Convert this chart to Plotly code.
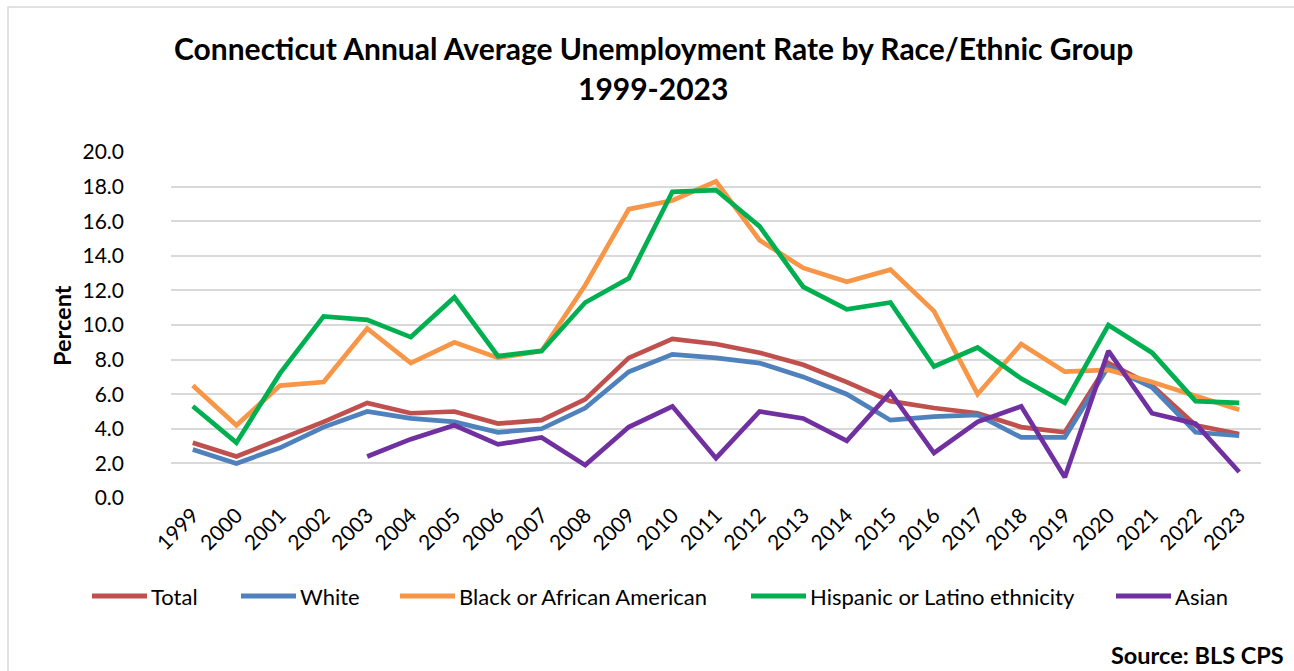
import plotly.graph_objects as go

years = [str(y) for y in range(1999, 2024)]
total = [3.2, 2.4, 3.4, 4.4, 5.5, 4.9, 5.0, 4.3, 4.5, 5.7, 8.1, 9.2, 8.9, 8.4, 7.7, 6.7, 5.6, 5.2, 4.9, 4.1, 3.8, 7.8, 6.5, 4.2, 3.7]
white = [2.8, 2.0, 2.9, 4.1, 5.0, 4.6, 4.4, 3.8, 4.0, 5.2, 7.3, 8.3, 8.1, 7.8, 7.0, 6.0, 4.5, 4.7, 4.8, 3.5, 3.5, 7.6, 6.4, 3.8, 3.6]
black = [6.5, 4.2, 6.5, 6.7, 9.8, 7.8, 9.0, 8.1, 8.5, 12.3, 16.7, 17.2, 18.3, 14.9, 13.3, 12.5, 13.2, 10.8, 6.0, 8.9, 7.3, 7.4, 6.7, 5.9, 5.1]
hispanic = [5.3, 3.2, 7.2, 10.5, 10.3, 9.3, 11.6, 8.2, 8.5, 11.3, 12.7, 17.7, 17.8, 15.7, 12.2, 10.9, 11.3, 7.6, 8.7, 6.9, 5.5, 10.0, 8.4, 5.6, 5.5]
asian = [None, None, None, None, 2.4, 3.4, 4.2, 3.1, 3.5, 1.9, 4.1, 5.3, 2.3, 5.0, 4.6, 3.3, 6.1, 2.6, 4.4, 5.3, 1.2, 8.5, 4.9, 4.3, 1.5]

series_names = ["Total", "White", "Black or African American",
                "Hispanic or Latino ethnicity", "Asian"]
series_values = [total, white, black, hispanic, asian]
series_colors = ["#C0504D", "#4F81BD", "#F79646", "#00B050", "#7030A0"]

FONT = "Lato"
W, H = 1294, 671
L, R, T, B = 171, 1261, 152, 498

# legend layout (pixel positions of each entry's line start)
legend_line_x = [92, 241, 400, 751, 1116]
LEG_LINE_LEN = 55
LEG_Y = 596


def px(x):
    return (x - L) / (R - L)


def py(y):
    return (B - y) / (B - T)


fig = go.Figure()
for name, vals, col in zip(series_names, series_values, series_colors):
    fig.add_trace(go.Scatter(x=years, y=vals, name=name, mode="lines",
                             line=dict(color=col, width=4.7), connectgaps=False,
                             showlegend=False))

shapes = [dict(type="rect", xref="paper", yref="paper",
               x0=px(8), x1=px(1310), y0=py(690), y1=py(7),
               line=dict(color="#D9D9D9", width=1.5), fillcolor="rgba(0,0,0,0)", layer="below")]
annotations = [
    dict(text="<b>Connecticut Annual Average Unemployment Rate by Race/Ethnic Group</b>",
         xref="paper", yref="paper", x=px(653), y=py(48), showarrow=False,
         xanchor="center", yanchor="middle", font=dict(family=FONT, size=30)),
    dict(text="<b>1999-2023</b>",
         xref="paper", yref="paper", x=px(653), y=py(88), showarrow=False,
         xanchor="center", yanchor="middle", font=dict(family=FONT, size=30)),
    dict(text="<b>Percent</b>", textangle=-90,
         xref="paper", yref="paper", x=px(62), y=py(326), showarrow=False,
         xanchor="center", yanchor="middle", font=dict(family=FONT, size=23.5)),
    dict(text="<b>Source: BLS CPS</b>",
         xref="paper", yref="paper", x=px(1286), y=py(655), showarrow=False,
         xanchor="right", yanchor="middle", font=dict(family=FONT, size=23.5)),
]

for name, col, x0 in zip(series_names, series_colors, legend_line_x):
    shapes.append(dict(type="line", xref="paper", yref="paper",
                       x0=px(x0), x1=px(x0 + LEG_LINE_LEN), y0=py(LEG_Y), y1=py(LEG_Y),
                       line=dict(color=col, width=5)))
    annotations.append(dict(text=name, xref="paper", yref="paper",
                            x=px(x0 + LEG_LINE_LEN + 2), y=py(LEG_Y), showarrow=False,
                            xanchor="left", yanchor="middle",
                            font=dict(family=FONT, size=22)))

fig.update_layout(
    width=W, height=H,
    margin=dict(l=L, r=W - R, t=T, b=H - B, pad=0),
    paper_bgcolor="white", plot_bgcolor="white",
    font=dict(family=FONT, size=18, color="#000000"),
    showlegend=False,
    xaxis=dict(type="category", range=[-0.5, len(years) - 0.5], tickangle=-45,
               showgrid=False, showline=False, ticks="",
               tickfont=dict(family=FONT, size=21)),
    yaxis=dict(range=[0, 20], dtick=2, tickformat=".1f", showgrid=True,
               gridcolor="#D9D9D9", gridwidth=1.5, zeroline=False, showline=False,
               ticks="", ticklabelstandoff=46, tickfont=dict(family=FONT, size=21)),
    shapes=shapes,
    annotations=annotations,
)

fig.write_html("out.html")
